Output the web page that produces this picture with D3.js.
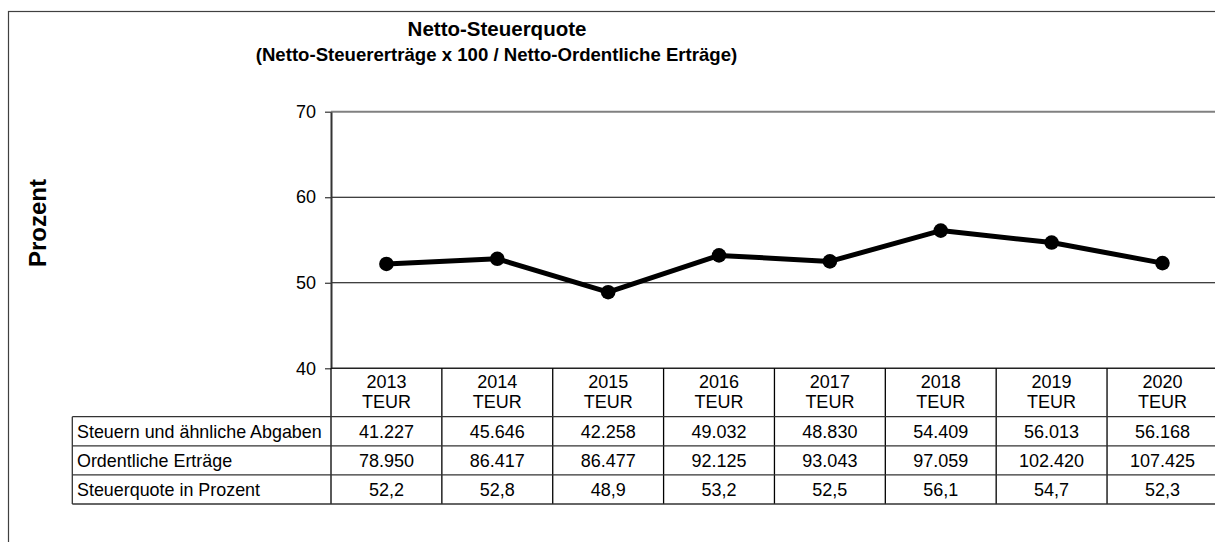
<!DOCTYPE html>
<html>
<head>
<meta charset="utf-8">
<script src="https://cdn.jsdelivr.net/npm/d3@7"></script>
<style>
  html, body { margin: 0; padding: 0; background: #fff; }
  svg { display: block; }
  text { font-family: "Liberation Sans", Arial, sans-serif; fill: #000; }
</style>
</head>
<body>
<svg id="chart" width="1215" height="542"></svg>
<script>
// ---- data ----
const years = ["2013", "2014", "2015", "2016", "2017", "2018", "2019", "2020"];
const unitLabel = "TEUR";
const steuern = ["41.227", "45.646", "42.258", "49.032", "48.830", "54.409", "56.013", "56.168"];
const ertraege = ["78.950", "86.417", "86.477", "92.125", "93.043", "97.059", "102.420", "107.425"];
const quote = [52.2, 52.8, 48.9, 53.2, 52.5, 56.1, 54.7, 52.3];
const rowLabels = ["Steuern und ähnliche Abgaben", "Ordentliche Erträge", "Steuerquote in Prozent"];
const yTicks = [40, 50, 60, 70];
const titleText = "Netto-Steuerquote";
const subtitleText = "(Netto-Steuererträge x 100 / Netto-Ordentliche Erträge)";
const yLabel = "Prozent";

const fmtComma = v => v.toFixed(1).replace(".", ",");
const rows = [steuern, ertraege, quote.map(fmtComma)];

// ---- layout ----
const svg = d3.select("#chart");
const plotLeft = 331, plotRight = 1217.9, plotTop = 111.7, plotBottom = 368.3;
const tableLeft = 72.3, headerBottom = 416.7, rowH = 29.1;

const x = d3.scaleBand().domain(years).range([plotLeft, plotRight]).padding(0);
const y = d3.scaleLinear().domain([40, 70]).range([plotBottom, plotTop]);

// outer frame
svg.append("rect")
  .attr("x", 8.5).attr("y", 11.5).attr("width", 1230).attr("height", 560)
  .attr("fill", "none").attr("stroke", "#404040").attr("stroke-width", 1.2);

// titles
svg.append("text").attr("x", 497).attr("y", 36.3).attr("text-anchor", "middle")
  .style("font-size", "20.5px").style("font-weight", "bold").text(titleText);
svg.append("text").attr("x", 496.5).attr("y", 61.3).attr("text-anchor", "middle")
  .style("font-size", "18.6px").style("font-weight", "bold").text(subtitleText);

// y label
svg.append("text")
  .attr("transform", "translate(46,223) rotate(-90)")
  .attr("text-anchor", "middle")
  .style("font-size", "24px").style("font-weight", "bold").text(yLabel);

// gridlines
svg.append("g").selectAll("line").data(yTicks.filter(d => d > 40)).join("line")
  .attr("x1", plotLeft).attr("x2", plotRight)
  .attr("y1", d => y(d)).attr("y2", d => y(d))
  .attr("stroke", d => d === 70 ? "#808080" : "#000")
  .attr("stroke-width", d => d === 70 ? 2 : 1.2);

// y axis
const yAxis = svg.append("g").attr("transform", `translate(${plotLeft},0)`)
  .call(d3.axisLeft(y).tickValues(yTicks).tickSize(6).tickSizeOuter(0).tickPadding(9));
yAxis.select(".domain").attr("stroke", "#333").attr("stroke-width", 2);
yAxis.selectAll(".tick line").attr("stroke", "#333").attr("stroke-width", 1.2);
yAxis.selectAll(".tick text").style("font-size", "18px")
  .style("font-family", '"Liberation Sans", Arial, sans-serif').attr("fill", "#000");

// x axis line (bottom of plot)
svg.append("line").attr("x1", plotLeft).attr("x2", plotRight)
  .attr("y1", plotBottom).attr("y2", plotBottom)
  .attr("stroke", "#222").attr("stroke-width", 1.5);

// table grid
const tableBottom = headerBottom + rowH * rowLabels.length;
const tg = svg.append("g");
const bounds = years.map(d => x(d)).concat([plotRight]);
tg.selectAll("line.v").data(bounds).join("line").attr("class", "v")
  .attr("x1", d => d).attr("x2", d => d)
  .attr("y1", plotBottom).attr("y2", tableBottom)
  .attr("stroke", "#000").attr("stroke-width", 1.3);
const hLines = d3.range(rowLabels.length + 1).map(i => headerBottom + i * rowH);
tg.selectAll("line.h").data(hLines).join("line").attr("class", "h")
  .attr("x1", tableLeft).attr("x2", plotRight)
  .attr("y1", d => d).attr("y2", d => d)
  .attr("stroke", "#333").attr("stroke-width", 1.3);
tg.append("line").attr("x1", tableLeft).attr("x2", tableLeft)
  .attr("y1", headerBottom).attr("y2", tableBottom)
  .attr("stroke", "#333").attr("stroke-width", 1.3);

// header text
const hdr = svg.append("g").selectAll("g").data(years).join("g");
hdr.append("text").attr("x", d => x(d) + x.bandwidth() / 2).attr("y", 388.3)
  .attr("text-anchor", "middle").style("font-size", "18px").text(d => d);
hdr.append("text").attr("x", d => x(d) + x.bandwidth() / 2).attr("y", 408.3)
  .attr("text-anchor", "middle").style("font-size", "18px").text(unitLabel);

// row labels and values
rowLabels.forEach((lab, i) => {
  const base = headerBottom + i * rowH + 21;
  svg.append("text").attr("x", 77).attr("y", base)
    .style("font-size", "17.9px").text(lab);
  svg.append("g").selectAll("text").data(rows[i]).join("text")
    .attr("x", (d, j) => x(years[j]) + x.bandwidth() / 2).attr("y", base)
    .attr("text-anchor", "middle").style("font-size", "18px").text(d => d);
});

// line + markers
const pts = years.map((d, i) => ({ year: d, v: quote[i] }));
svg.append("path").datum(pts)
  .attr("fill", "none").attr("stroke", "#000").attr("stroke-width", 5)
  .attr("stroke-linejoin", "round")
  .attr("d", d3.line().x(d => x(d.year) + x.bandwidth() / 2).y(d => y(d.v)));
svg.append("g").selectAll("circle").data(pts).join("circle")
  .attr("cx", d => x(d.year) + x.bandwidth() / 2).attr("cy", d => y(d.v))
  .attr("r", 7.3).attr("fill", "#000");
</script>
</body>
</html>
